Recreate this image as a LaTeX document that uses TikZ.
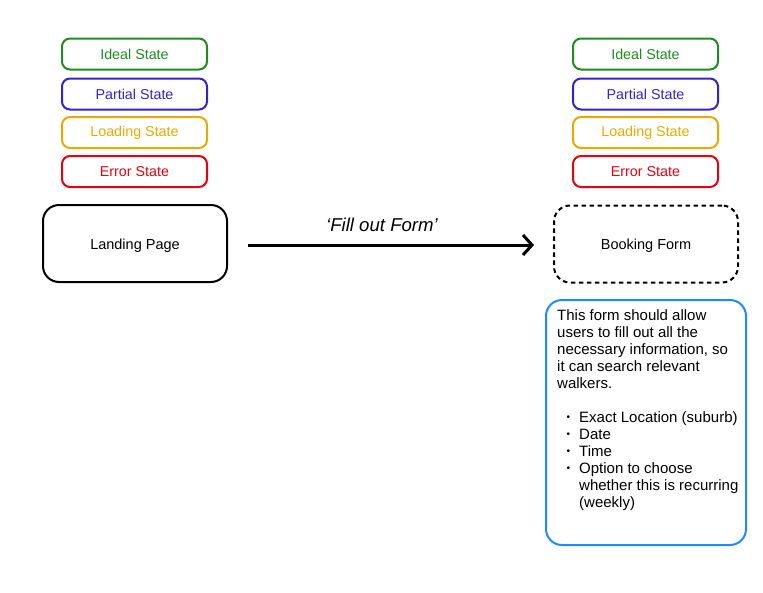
\documentclass[tikz,border=0pt]{standalone}
\usepackage{fontspec}
\setmainfont{Liberation Sans}
\usetikzlibrary{arrows.meta,calc}
\definecolor{cgreen}{HTML}{1E8C1E}
\definecolor{cblue}{HTML}{3522C8}
\definecolor{cyellow}{HTML}{E8AA00}
\definecolor{cred}{HTML}{E60012}
\definecolor{cdesc}{HTML}{1A8CFF}
\tikzset{
  statebox/.style={draw=#1, text=#1, line width=2pt, rounded corners=8pt, minimum width=145pt, minimum height=31pt, inner sep=0pt, font=\fontsize{14.3}{16}\selectfont},
  pagebox/.style={draw=black, line width=2pt, rounded corners=16pt, minimum width=184pt, minimum height=77pt, inner sep=0pt, font=\fontsize{14.5}{16}\selectfont},
}
\newcommand{\bul}{\makebox[22pt][l]{\hspace{9.5pt}\raisebox{1.5pt}{\fontsize{10}{10}\selectfont•}}}
\newcommand{\lowr}[1]{\raisebox{-2pt}[\height][\depth]{#1}}
\begin{document}
\begin{tikzpicture}[x=1pt,y=-1pt]
\useasboundingbox (0,0) rectangle (763,592);
% left states
\node[statebox=cgreen]  (li) at (134.5,54) {Ideal State};
\node[statebox=cblue]   (lp) at (134.5,94) {Partial State};
\node[statebox=cyellow] (ll) at (134.5,132.5) {Loading State};
\node[statebox=cred]    (le) at (134.5,171.5) {Error State};
% right states
\node[statebox=cgreen]  (ri) at (645.5,54) {Ideal State};
\node[statebox=cblue]   (rp) at (645.5,94) {Partial State};
\node[statebox=cyellow] (rl) at (645.5,132.5) {Loading State};
\node[statebox=cred]    (re) at (645.5,171.5) {Error State};
% pages
\node[pagebox] (landing) at (135,243.5) {\lowr{Landing Page}};
\node[pagebox, dashed, dash pattern=on 4.5pt off 3.5pt] (booking) at (646,244) {\lowr{Booking Form}};
% arrow
\coordinate (as) at ($(landing.east)+(20,1.5)$);
\coordinate (ae) at ($(booking.west)+(-19,1)$);
\draw[line width=3pt, -{Straight Barb[length=9pt,width=20pt,line width=3pt]}] (as) -- (ae);
\node[font=\fontsize{18.6}{20}\selectfont\itshape] (lbl) at (382,225) {‘Fill out Form’};
% description
\node[draw=cdesc, line width=2pt, rounded corners=16pt, minimum width=200pt, minimum height=245pt, inner sep=0pt] (desc) at (646,422.5) {};
\node[anchor=north west, inner sep=0pt, align=left, font=\fontsize{15}{17}\selectfont] (desctext) at (557,309) {This form should allow\\users to fill out all the\\necessary information, so\\it can search relevant\\walkers.\\[17pt]
\bul Exact Location (suburb)\\
\bul Date\\
\bul Time\\
\bul Option to choose\\
\hspace*{22pt}whether this is recurring\\
\hspace*{22pt}(weekly)};
\end{tikzpicture}
\end{document}
